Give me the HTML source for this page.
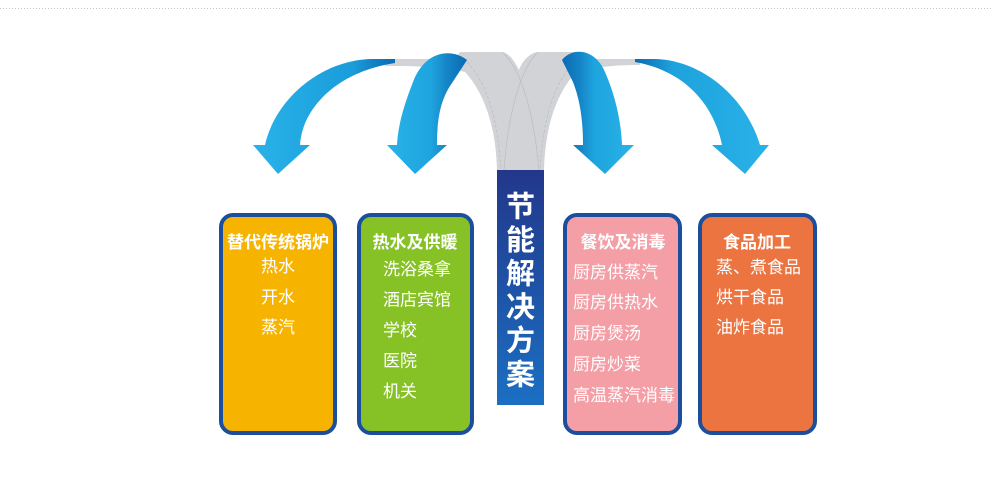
<!DOCTYPE html>
<html>
<head>
<meta charset="utf-8">
<style>
  html,body{margin:0;padding:0;background:#fff;}
  body{width:992px;height:486px;overflow:hidden;}
  svg{display:block;}
  text{font-family:"Liberation Sans","Noto Sans CJK SC",sans-serif;fill:#fff;}
  .t{font-size:17px;font-weight:bold;}
  .i{font-size:17px;}
  .s{font-size:29px;font-weight:bold;}
</style>
</head>
<body>
<svg width="992" height="486" viewBox="0 0 992 486" xmlns="http://www.w3.org/2000/svg">
  <defs>
    <linearGradient id="a1" gradientUnits="userSpaceOnUse" x1="253" y1="0" x2="395" y2="0">
      <stop offset="0" stop-color="#29b2e8"/>
      <stop offset="0.7" stop-color="#1a9ddb"/>
      <stop offset="0.84" stop-color="#1283c6"/>
      <stop offset="1" stop-color="#0a6cb4"/>
    </linearGradient>
    <linearGradient id="a2" gradientUnits="userSpaceOnUse" x1="387" y1="0" x2="467" y2="0">
      <stop offset="0" stop-color="#29b2e8"/>
      <stop offset="0.55" stop-color="#1ea4de"/>
      <stop offset="0.75" stop-color="#1585c7"/>
      <stop offset="1" stop-color="#0a6ab3"/>
    </linearGradient>
    <linearGradient id="a3" gradientUnits="userSpaceOnUse" x1="634" y1="0" x2="562" y2="0">
      <stop offset="0" stop-color="#29b2e8"/>
      <stop offset="0.55" stop-color="#1ea4de"/>
      <stop offset="0.75" stop-color="#1585c7"/>
      <stop offset="1" stop-color="#0a6ab3"/>
    </linearGradient>
    <linearGradient id="a4" gradientUnits="userSpaceOnUse" x1="769" y1="0" x2="635" y2="0">
      <stop offset="0" stop-color="#29b2e8"/>
      <stop offset="0.72" stop-color="#1ea2dd"/>
      <stop offset="0.86" stop-color="#1585c7"/>
      <stop offset="1" stop-color="#0a6ab3"/>
    </linearGradient>
    <linearGradient id="stem" gradientUnits="userSpaceOnUse" x1="0" y1="170" x2="0" y2="405">
      <stop offset="0" stop-color="#22378a"/>
      <stop offset="1" stop-color="#1b6fc3"/>
    </linearGradient>
  </defs>

  <!-- dotted top line -->
  <line x1="0" y1="8.5" x2="992" y2="8.5" stroke="#c4c4c4" stroke-width="1" stroke-dasharray="1 2"/>

  <!-- gray ribbons -->
  <path d="M 385 59 L 455 59 L 460 52 L 503 52 C 510 54, 515 62, 519 70 C 522 62, 528 54, 537 52 L 578 52 L 585 59 L 640 59 L 640 65 C 610 65, 590 68, 576 72 C 555 95, 545 130, 544 170 L 497 170 C 496 130, 486 95, 465 72 C 440 66, 410 66, 385 66 Z" fill="#d1d3d7"/>
  <g fill="none" stroke="#b9bcc2" stroke-width="0.7">
    <path d="M 467 62 C 488 85, 498 120, 501 170" stroke-dasharray="3 2"/>
    <path d="M 503 53 C 522 70, 534 115, 539 170"/>
    <path d="M 537 53 C 520 70, 508 115, 504 170"/>
    <path d="M 574 62 C 553 85, 543 120, 540 170" stroke-dasharray="3 2"/>
  </g>

  <!-- arrows -->
  <path d="M 395 59 L 372 59 C 320 60, 275 100, 265 145 L 253 145 L 278 174 L 310 145 L 300 145 C 302 110, 335 72, 395 63 Z" fill="url(#a1)"/>
  <path d="M 467 60 C 452 48, 425 50, 413 82 C 404 105, 398 125, 397 145 L 387 145 L 415 174 L 447 145 L 437 145 C 437 120, 440 100, 452 83 Z" fill="url(#a2)"/>
  <path d="M 562 60 C 572 47, 595 48, 605 72 C 615 95, 621 120, 622 145 L 634 145 L 605 174 L 573 145 L 583 145 C 583 120, 580 100, 573 82 Z" fill="url(#a3)"/>
  <path d="M 635 59 L 655 59 C 700 60, 745 95, 760 145 L 769 145 L 745 174 L 712 145 L 722 145 C 715 110, 690 72, 635 62 Z" fill="url(#a4)"/>

  <!-- central stem -->
  <rect x="497" y="170" width="47" height="235" fill="url(#stem)"/>
  <text class="s" x="520.5" y="216.5" text-anchor="middle">节</text>
  <text class="s" x="520.5" y="250" text-anchor="middle">能</text>
  <text class="s" x="520.5" y="283.5" text-anchor="middle">解</text>
  <text class="s" x="520.5" y="317" text-anchor="middle">决</text>
  <text class="s" x="520.5" y="350.5" text-anchor="middle">方</text>
  <text class="s" x="520.5" y="384.5" text-anchor="middle">案</text>

  <!-- boxes -->
  <rect x="221" y="215" width="114" height="218" rx="12" ry="12" fill="#f6b400" stroke="#1b4f9d" stroke-width="4"/>
  <rect x="359" y="215" width="113" height="218" rx="12" ry="12" fill="#86c226" stroke="#1b4f9d" stroke-width="4"/>
  <rect x="565" y="215" width="115" height="218" rx="12" ry="12" fill="#f49ea6" stroke="#1b4f9d" stroke-width="4"/>
  <rect x="700" y="215" width="115" height="218" rx="12" ry="12" fill="#ec7441" stroke="#1b4f9d" stroke-width="4"/>

  <!-- box 1 -->
  <text class="t" x="278" y="248" text-anchor="middle">替代传统锅炉</text>
  <text class="i" x="278" y="272" text-anchor="middle">热水</text>
  <text class="i" x="278" y="303" text-anchor="middle">开水</text>
  <text class="i" x="278" y="333" text-anchor="middle">蒸汽</text>

  <!-- box 2 -->
  <text class="t" x="415" y="248" text-anchor="middle">热水及供暖</text>
  <text class="i" x="383" y="275">洗浴桑拿</text>
  <text class="i" x="383" y="305.5">酒店宾馆</text>
  <text class="i" x="383" y="336">学校</text>
  <text class="i" x="383" y="366.5">医院</text>
  <text class="i" x="383" y="397">机关</text>

  <!-- box 3 -->
  <text class="t" x="623" y="248" text-anchor="middle">餐饮及消毒</text>
  <text class="i" x="573" y="278">厨房供蒸汽</text>
  <text class="i" x="573" y="308">厨房供热水</text>
  <text class="i" x="573" y="339">厨房煲汤</text>
  <text class="i" x="573" y="370">厨房炒菜</text>
  <text class="i" x="573" y="401">高温蒸汽消毒</text>

  <!-- box 4 -->
  <text class="t" x="757" y="248" text-anchor="middle">食品加工</text>
  <text class="i" x="716" y="273">蒸、煮食品</text>
  <text class="i" x="716" y="303">烘干食品</text>
  <text class="i" x="716" y="333">油炸食品</text>
</svg>
</body>
</html>
